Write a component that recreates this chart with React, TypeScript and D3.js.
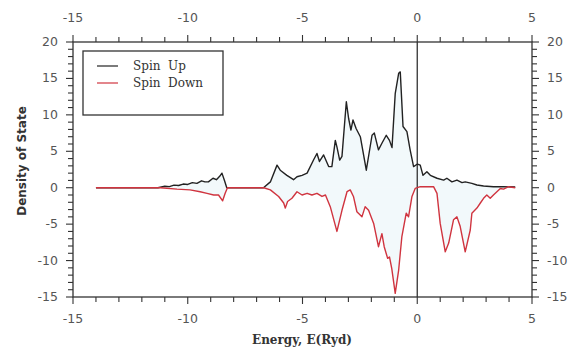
import React from "react";
import * as d3 from "d3";

const upE = [-14, -11.3, -11.0, -10.8, -10.6, -10.4, -10.2, -10.0, -9.8, -9.6, -9.4, -9.25, -9.1, -8.9, -8.75, -8.6, -8.51, -8.4, -8.3, -6.7, -6.4, -6.11, -5.97, -5.68, -5.39, -5.24, -5.02, -4.8, -4.52, -4.37, -4.26, -4.08, -3.86, -3.72, -3.57, -3.5, -3.38, -3.28, -3.09, -2.99, -2.89, -2.8, -2.66, -2.48, -2.22, -1.97, -1.87, -1.69, -1.54, -1.35, -1.21, -1.1, -0.96, -0.81, -0.74, -0.62, -0.45, -0.31, -0.16, 0.01, 0.13, 0.25, 0.42, 0.57, 0.86, 1.15, 1.29, 1.51, 1.73, 1.95, 2.09, 2.38, 2.6, 2.89, 3.32, 3.76, 4.27];
const upV = [0, 0, 0.2, 0.15, 0.35, 0.3, 0.5, 0.45, 0.7, 0.6, 0.95, 0.8, 0.8, 1.3, 1.1, 1.6, 2.0, 1.0, 0, 0, 0.8, 3.1, 2.4, 1.7, 1.1, 1.5, 1.7, 2.0, 3.8, 4.7, 3.6, 4.5, 2.9, 2.9, 6.5, 5.6, 3.8, 4.3, 11.8, 9.5, 7.9, 9.3, 8.1, 7.0, 2.4, 7.2, 7.5, 5.2, 6.1, 7.2, 6.5, 5.5, 12.9, 15.7, 15.9, 8.4, 7.7, 5.2, 2.9, 3.25, 3.1, 1.7, 2.2, 1.7, 1.3, 1.05, 1.3, 0.8, 1.05, 0.7, 0.8, 0.6, 0.37, 0.23, 0.14, 0.14, 0.1];

const downE = [-14, -11.2, -10.47, -9.9, -9.46, -9.16, -8.87, -8.66, -8.48, -8.37, -8.27, -6.69, -6.4, -6.04, -5.82, -5.75, -5.65, -5.46, -5.24, -5.02, -4.8, -4.59, -4.37, -4.15, -4.0, -3.79, -3.5, -3.28, -3.06, -2.92, -2.78, -2.63, -2.41, -2.27, -2.12, -1.9, -1.69, -1.54, -1.44, -1.29, -1.21, -1.11, -0.96, -0.81, -0.67, -0.48, -0.38, -0.23, -0.09, 0.13, 0.71, 0.86, 1.0, 1.22, 1.37, 1.58, 1.73, 1.87, 2.09, 2.31, 2.38, 2.6, 2.75, 2.89, 3.03, 3.18, 3.32, 3.47, 3.62, 3.76, 3.98, 4.27];
const downV = [0, 0, -0.2, -0.3, -0.55, -0.77, -1.0, -1.0, -1.8, -0.77, 0, 0, -0.3, -1.2, -2.1, -2.8, -1.9, -1.45, -0.55, -1.0, -0.77, -1.0, -0.77, -1.2, -1.0, -2.6, -6.0, -3.1, -0.55, -0.3, -1.2, -3.3, -4.0, -2.6, -3.1, -4.9, -8.1, -6.3, -8.1, -9.7, -9.5, -11.1, -14.5, -11.3, -6.7, -3.5, -4.0, -1.2, -0.1, 0.14, 0.14, -0.77, -4.9, -8.8, -7.6, -4.4, -4.0, -5.3, -8.8, -5.8, -3.5, -2.8, -2.1, -1.45, -1.0, -1.45, -1.0, -0.55, -0.1, -0.2, 0.14, 0];

const xTicks = [-15, -10, -5, 0, 5];
const yTicks = [-15, -10, -5, 0, 5, 10, 15, 20];
const legendLabels = ["Spin  Up", "Spin  Down"];
const seriesColors = ["#222222", "#d0343f"];

export default function App() {
  const W = 579, H = 349;
  const L = 73, R = 532, T = 42, B = 297;
  const x = d3.scaleLinear().domain([-15, 5]).range([L, R]);
  const y = d3.scaleLinear().domain([-15, 20]).range([B, T]);

  const up = upE.map((e, i) => [e, upV[i]] as [number, number]);
  const down = downE.map((e, i) => [e, downV[i]] as [number, number]);
  const line = d3.line<[number, number]>().x(d => x(d[0])).y(d => y(d[1]));
  const area = d3.area<[number, number]>().x(d => x(d[0])).y0(y(0)).y1(d => y(d[1]));

  const xMinor = d3.range(-15, 5.01, 1);
  const yMinor = d3.range(-15, 20.01, 1);
  const axisColor = "#333";
  const labelColor = "#555";
  const font = "DejaVu Sans, sans-serif";

  return (
    <svg width={W} height={H} style={{ position: "absolute", left: 0, top: 0, background: "#fff" }}>
      <rect width={W} height={H} fill="#fff" />
      <path d={area(up) || ""} fill="#e9f5f8" opacity={0.6} />
      <path d={area(down) || ""} fill="#e9f5f8" opacity={0.6} />
      <rect x={L} y={T} width={R - L} height={B - T} fill="none" stroke={axisColor} strokeWidth={1.3} />
      <line x1={x(0)} x2={x(0)} y1={T} y2={B} stroke={axisColor} strokeWidth={1.3} />
      {xMinor.map(v => {
        const major = xTicks.includes(Math.round(v));
        const len = major ? 7 : 5;
        return (
          <g key={"xt" + v}>
            <line x1={x(v)} x2={x(v)} y1={T} y2={T - len} stroke={axisColor} strokeWidth={1.1} />
            <line x1={x(v)} x2={x(v)} y1={B} y2={B + len} stroke={axisColor} strokeWidth={1.1} />
          </g>
        );
      })}
      {yMinor.map(v => {
        const major = yTicks.includes(Math.round(v));
        const len = major ? 7 : 5;
        return (
          <g key={"yt" + v}>
            <line x1={L} x2={L - len} y1={y(v)} y2={y(v)} stroke={axisColor} strokeWidth={1.1} />
            <line x1={R} x2={R + len} y1={y(v)} y2={y(v)} stroke={axisColor} strokeWidth={1.1} />
          </g>
        );
      })}
      {xTicks.map(v => (
        <g key={"xl" + v}>
          <text x={x(v)} y={22} textAnchor="middle" fontFamily={font} fontSize={12.5} fill={labelColor}>{v}</text>
          <text x={x(v)} y={323} textAnchor="middle" fontFamily={font} fontSize={12.5} fill={labelColor}>{v}</text>
        </g>
      ))}
      {yTicks.map(v => (
        <g key={"yl" + v}>
          <text x={58} y={y(v) + 4} textAnchor="end" fontFamily={font} fontSize={12.5} fill={labelColor}>{v}</text>
          <text x={547} y={y(v) + 4} textAnchor="start" fontFamily={font} fontSize={12.5} fill={labelColor}>{v}</text>
        </g>
      ))}
      <path d={line(up) || ""} fill="none" stroke={seriesColors[0]} strokeWidth={1.4} strokeLinejoin="round" />
      <path d={line(down) || ""} fill="none" stroke={seriesColors[1]} strokeWidth={1.4} strokeLinejoin="round" />
      <rect x={83} y={51} width={140} height={64} fill="#fff" stroke={axisColor} strokeWidth={1.3} />
      {legendLabels.map((lab, i) => (
        <g key={lab}>
          <line x1={97} x2={118} y1={66 + i * 17} y2={66 + i * 17} stroke={seriesColors[i]} strokeWidth={1.2} />
          <text x={133} y={70 + i * 17} fontFamily="DejaVu Serif, serif" fontSize={12} fill="#333" style={{ whiteSpace: "pre" }}>{lab}</text>
        </g>
      ))}
      <text transform={`translate(26,${161}) rotate(-90)`} textAnchor="middle" fontFamily={font} fontWeight="bold" fontSize={12} fill="#333">Density of State</text>
      <text x={302} y={344} textAnchor="middle" fontFamily="DejaVu Serif, serif" fontWeight="bold" fontSize={12} fill="#333">Energy, E(Ryd)</text>
    </svg>
  );
}
